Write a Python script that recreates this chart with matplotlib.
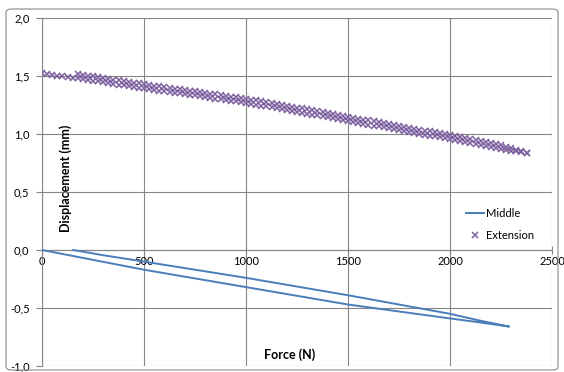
import matplotlib
matplotlib.use("Agg")
import matplotlib.pyplot as plt
from matplotlib.patches import FancyBboxPatch

plt.rcParams["font.family"] = ["Lato", "DejaVu Sans"]

# Middle gauge: loading branch then unloading branch (force N, displacement mm)
middle_force = [0, 250, 500, 750, 1000, 1250, 1500, 1750, 2000, 2150, 2290,
                2150, 2000, 1750, 1500, 1250, 1000, 750, 500, 300, 153]
middle_disp = [0.0, -0.085, -0.17, -0.245, -0.32, -0.395, -0.47, -0.53, -0.59, -0.625, -0.66,
               -0.61, -0.55, -0.47, -0.39, -0.315, -0.24, -0.17, -0.10, -0.045, 0.0]

# Extension gauge, loading strand
ext_load_force = [
    0, 25, 50, 75, 100, 125, 150, 175, 200, 225,
    250, 275, 300, 325, 350, 375, 400, 425, 450, 475,
    500, 525, 550, 575, 600, 625, 650, 675, 700, 725,
    750, 775, 800, 825, 850, 875, 900, 925, 950, 975,
    1000, 1025, 1050, 1075, 1100, 1125, 1150, 1175, 1200, 1225,
    1250, 1275, 1300, 1325, 1350, 1375, 1400, 1425, 1450, 1475,
    1500, 1525, 1550, 1575, 1600, 1625, 1650, 1675, 1700, 1725,
    1750, 1775, 1800, 1825, 1850, 1875, 1900, 1925, 1950, 1975,
    2000, 2025, 2050, 2075, 2100, 2125, 2150, 2175, 2200, 2225,
    2250, 2275, 2300, 2325, 2350, 2375,
]
ext_load_disp = [
    1.522, 1.516, 1.510, 1.503, 1.497, 1.491, 1.485, 1.479, 1.472, 1.466,
    1.460, 1.453, 1.447, 1.440, 1.433, 1.426, 1.420, 1.413, 1.406, 1.400,
    1.393, 1.387, 1.381, 1.375, 1.369, 1.363, 1.356, 1.350, 1.344, 1.338,
    1.332, 1.326, 1.319, 1.313, 1.306, 1.300, 1.294, 1.287, 1.281, 1.274,
    1.268, 1.260, 1.253, 1.245, 1.238, 1.230, 1.222, 1.215, 1.207, 1.200,
    1.192, 1.184, 1.176, 1.168, 1.160, 1.152, 1.145, 1.137, 1.129, 1.121,
    1.113, 1.105, 1.097, 1.089, 1.081, 1.073, 1.066, 1.058, 1.050, 1.042,
    1.034, 1.026, 1.018, 1.010, 1.002, 0.994, 0.987, 0.979, 0.971, 0.963,
    0.955, 0.946, 0.937, 0.929, 0.920, 0.911, 0.902, 0.893, 0.885, 0.876,
    0.867, 0.862, 0.856, 0.851, 0.845, 0.840,
]

# Extension gauge, unloading strand
ext_unload_force = [
    2375, 2350, 2325, 2300, 2275, 2250, 2225, 2200, 2175, 2150,
    2125, 2100, 2075, 2050, 2025, 2000, 1975, 1950, 1925, 1900,
    1875, 1850, 1825, 1800, 1775, 1750, 1725, 1700, 1675, 1650,
    1625, 1600, 1575, 1550, 1525, 1500, 1475, 1450, 1425, 1400,
    1375, 1350, 1325, 1300, 1275, 1250, 1225, 1200, 1175, 1150,
    1125, 1100, 1075, 1050, 1025, 1000, 975, 950, 925, 900,
    875, 850, 825, 800, 775, 750, 725, 700, 675, 650,
    625, 600, 575, 550, 525, 500, 475, 450, 425, 400,
    375, 350, 325, 300, 275, 250, 225, 200, 175,
]
ext_unload_disp = [
    0.840, 0.853, 0.865, 0.878, 0.890, 0.903, 0.912, 0.921, 0.929, 0.938,
    0.947, 0.956, 0.965, 0.973, 0.982, 0.991, 0.999, 1.007, 1.015, 1.023,
    1.030, 1.038, 1.046, 1.054, 1.062, 1.070, 1.078, 1.086, 1.094, 1.102,
    1.109, 1.117, 1.125, 1.133, 1.141, 1.149, 1.157, 1.165, 1.173, 1.181,
    1.188, 1.196, 1.204, 1.212, 1.220, 1.228, 1.236, 1.243, 1.251, 1.258,
    1.266, 1.274, 1.281, 1.289, 1.296, 1.304, 1.310, 1.317, 1.323, 1.330,
    1.336, 1.342, 1.349, 1.355, 1.362, 1.368, 1.374, 1.380, 1.386, 1.392,
    1.399, 1.405, 1.411, 1.417, 1.423, 1.429, 1.436, 1.442, 1.449, 1.456,
    1.462, 1.469, 1.476, 1.483, 1.489, 1.496, 1.502, 1.508, 1.515,
]

x_ticks = [0, 500, 1000, 1500, 2000, 2500]
y_ticks = [-1.0, -0.5, 0.0, 0.5, 1.0, 1.5, 2.0]
y_tick_labels = ["-1,0", "-0,5", "0,0", "0,5", "1,0", "1,5", "2,0"]

W, H = 564, 372
fig = plt.figure(figsize=(W / 100, H / 100), dpi=100)
ax = fig.add_axes([42 / W, 1 - 366 / H, 510 / W, 348 / H])

grid_col = "#868686"
ax.set_xlim(0, 2500)
ax.set_ylim(-1.0, 2.0)
ax.set_xticks(x_ticks)
ax.set_yticks(y_ticks)
ax.set_yticklabels(y_tick_labels)
ax.grid(True, color=grid_col, linewidth=0.8)
ax.set_axisbelow(True)

for side in ["top", "right"]:
    ax.spines[side].set_visible(False)
ax.spines["bottom"].set_position(("data", 0))
ax.spines["bottom"].set_color(grid_col)
ax.spines["left"].set_color(grid_col)
ax.tick_params(axis="both", colors=grid_col, labelcolor="black", labelsize=8)
ax.tick_params(axis="x", direction="inout", length=6, pad=1)
ax.tick_params(axis="y", direction="out", length=4, pad=5)

ax.plot(middle_force, middle_disp, color="#4A7EBB", linewidth=1.4, label="Middle", zorder=3)
ext_col = "#7D60A0"
ax.plot(ext_load_force, ext_load_disp, linestyle="none", marker="x", markersize=4.6,
        markeredgewidth=1.1, color=ext_col, label="Extension", zorder=3)
ax.plot(ext_unload_force, ext_unload_disp, linestyle="none", marker="x", markersize=4.6,
        markeredgewidth=1.1, color=ext_col, zorder=3)

fig.text(66 / W, 1 - 178 / H, "Displacement (mm)", rotation=90, ha="center", va="center",
         fontsize=9, fontweight="bold")
fig.text(290 / W, 1 - 355 / H, "Force (N)", ha="center", va="center",
         fontsize=9, fontweight="bold")

leg = ax.legend(loc="center left", bbox_to_anchor=(466 / W, 1 - 224.5 / H),
                bbox_transform=fig.transFigure, frameon=False, fontsize=8,
                handlelength=1.6, handletextpad=0.2, labelspacing=1.0,
                borderpad=0, borderaxespad=0, markerscale=0.8)

fig.patches.append(FancyBboxPatch((6 / W, 2 / H), 552 / W, 361 / H,
                                  boxstyle="round,pad=0,rounding_size=0.01",
                                  transform=fig.transFigure, fill=False,
                                  edgecolor="#898989", linewidth=0.8))

fig.savefig("out.png", dpi=100)
